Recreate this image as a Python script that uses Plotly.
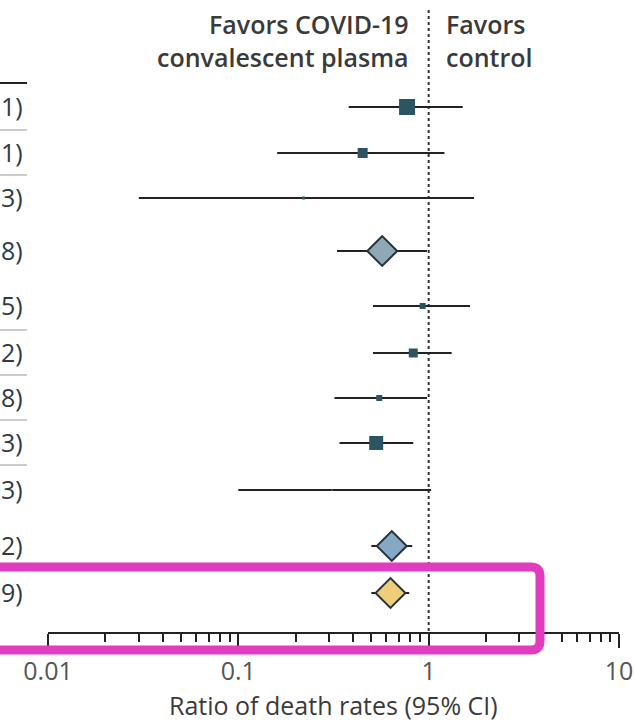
import plotly.graph_objects as go

# ---------------- data ----------------
rows = ["Study 1", "Study 2", "Study 3", "Pooled RCT", "Study 4", "Study 5",
        "Study 6", "Study 7", "Study 8", "Pooled matched", "Pooled overall"]
point = [0.77, 0.45, 0.22, 0.57, 0.93, 0.83, 0.55, 0.53, 0.31, 0.64, 0.63]
lower = [0.38, 0.16, 0.03, 0.33, 0.51, 0.51, 0.32, 0.34, 0.10, 0.50, 0.50]
upper = [1.51, 1.21, 1.73, 0.98, 1.65, 1.32, 0.98, 0.83, 1.03, 0.82, 0.79]
kind = ["study", "study", "study", "pooled", "study", "study",
        "study", "study", "study", "pooled", "overall"]
weight_size = [16, 10, 3, 0, 6, 9, 6, 14, 2, 0, 0]  # visual weight of study squares
tick_vals = [0.01, 0.1, 1, 10]
tick_text = ["0.01", "0.1", "1", "10"]

# ---------------- layout geometry ----------------
W, H = 635, 724
L, R, T, AX = 48, 16, 0, 632
row_y = [107, 153, 198, 251, 306, 353, 398, 443, 490, 546, 593]
PW = W - L - R


def px(x):
    return (x - L) / PW


def py(y):
    return 1 - (y - T) / (AX - T)


fig = go.Figure()

sq_color = "#2d5561"
edge = "#26333a"
fills = {"pooled": "#8ea8b6", "overall": "#f0cd78"}

for i in range(len(rows)):
    k = kind[i]
    if k == "study":
        sym, size, col, lw = "square", weight_size[i], sq_color, 0
    else:
        sym, size, col, lw = "diamond", 23, fills[k], 2
        if i == 9:
            col = "#86a8c4"
    fig.add_trace(go.Scatter(
        x=[point[i]], y=[row_y[i]], mode="markers",
        marker=dict(symbol=sym, size=size, color=col, line=dict(color=edge, width=lw)),
        error_x=dict(type="data", symmetric=False,
                     array=[upper[i] - point[i]], arrayminus=[point[i] - lower[i]],
                     color="#222", thickness=2, width=0),
        cliponaxis=False, showlegend=False, hoverinfo="skip"))

shapes = []
# reference dotted line at 1
shapes.append(dict(type="line", xref="x", yref="y", x0=1, x1=1, y0=10, y1=AX,
                   line=dict(color="#333", width=2, dash="dot"), layer="below"))
# left table separators
shapes.append(dict(type="line", xref="paper", yref="paper", x0=px(-5), x1=px(27),
                   y0=py(83), y1=py(83), line=dict(color="#222", width=2)))
for yy in [130, 175, 330, 375, 420, 465]:
    shapes.append(dict(type="line", xref="paper", yref="paper", x0=px(-5), x1=px(27),
                       y0=py(yy), y1=py(yy), line=dict(color="#aaa", width=1.2)))

# magenta highlight box with rounded corners
x0p, x1p, y0p, y1p, rr = -10, 540, 567, 650, 9
path = (f"M {px(x0p)},{py(y0p)} L {px(x1p - rr)},{py(y0p)} "
        f"Q {px(x1p)},{py(y0p)} {px(x1p)},{py(y0p + rr)} "
        f"L {px(x1p)},{py(y1p - rr)} Q {px(x1p)},{py(y1p)} {px(x1p - rr)},{py(y1p)} "
        f"L {px(x0p)},{py(y1p)} Z")
shapes.append(dict(type="path", xref="paper", yref="paper", path=path,
                   line=dict(color="#e03cbf", width=9)))

annotations = []
# CI text column on the left (cut off by the image edge, as in the reference)
for i in range(len(rows)):
    txt = f"{point[i]:.2f} ({lower[i]:.2f}-{upper[i]:.2f})"
    annotations.append(dict(xref="paper", yref="paper", x=px(25), y=py(row_y[i] - 1),
                            text=txt, showarrow=False, xanchor="right", yanchor="middle",
                            font=dict(family="Open Sans", size=25, color="#2f3a44")))

hdr_font = dict(family="Open Sans", size=25, color="#3a3a3a", weight=600)
annotations.append(dict(xref="paper", yref="paper", x=px(411), y=py(40),
                        text="Favors COVID-19<br>convalescent plasma", showarrow=False,
                        xanchor="right", yanchor="middle", align="right", font=hdr_font))
annotations.append(dict(xref="paper", yref="paper", x=px(444), y=py(40),
                        text="Favors<br>control", showarrow=False,
                        xanchor="left", yanchor="middle", align="left", font=hdr_font))
annotations.append(dict(xref="paper", yref="paper", x=0.5, y=py(705),
                        text="Ratio of death rates (95% CI)", showarrow=False,
                        xanchor="center", yanchor="middle",
                        font=dict(family="Open Sans", size=25, color="#3a3a3a")))

fig.update_layout(
    width=W, height=H, margin=dict(l=L, r=R, t=T, b=H - AX, pad=0),
    paper_bgcolor="white", plot_bgcolor="white",
    shapes=shapes, annotations=annotations,
    xaxis=dict(type="log", range=[-2, 1], tickvals=tick_vals, ticktext=tick_text,
               showgrid=False, zeroline=False, showline=True, linecolor="#222", linewidth=2,
               ticks="outside", ticklen=14, tickwidth=2, tickcolor="#222",
               tickfont=dict(family="Open Sans", size=25, color="#555"),
               ticklabelstandoff=2,
               minor=dict(ticks="outside", ticklen=8, tickwidth=1.5, tickcolor="#222",
                          dtick="D1", showgrid=False)),
    yaxis=dict(range=[AX, T], visible=False, showgrid=False, zeroline=False),
)

fig.write_html("out.html")
